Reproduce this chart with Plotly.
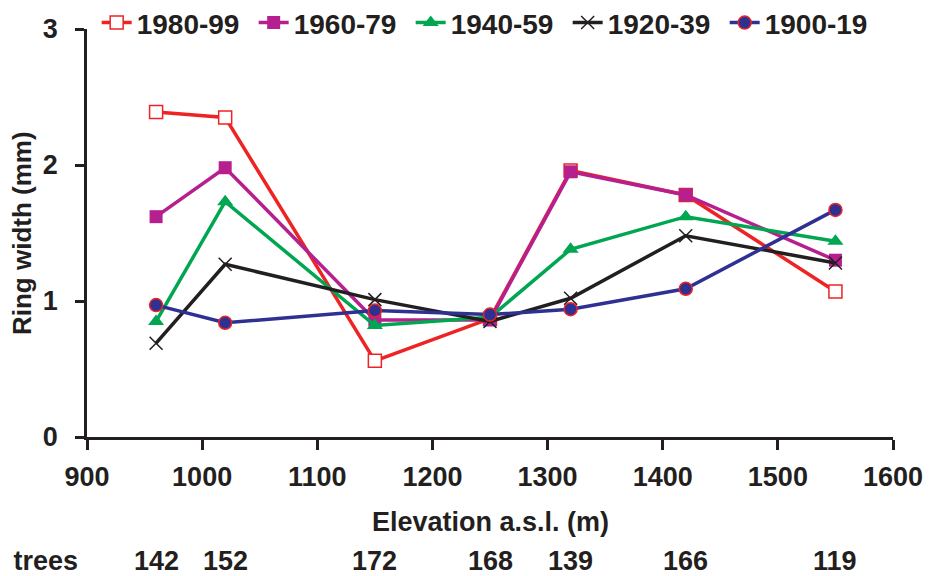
import plotly.graph_objects as go

elevation = [960, 1020, 1150, 1250, 1320, 1420, 1550]
series_names = ["1980-99", "1960-79", "1940-59", "1920-39", "1900-19"]
w1980 = [2.39, 2.35, 0.56, 0.87, 1.96, 1.78, 1.07]
w1960 = [1.62, 1.98, 0.86, 0.86, 1.95, 1.78, 1.30]
w1940 = [0.85, 1.73, 0.82, 0.88, 1.38, 1.62, 1.44]
w1920 = [0.69, 1.27, 1.01, 0.85, 1.02, 1.48, 1.28]
w1900 = [0.97, 0.84, 0.93, 0.90, 0.94, 1.09, 1.67]
n_trees = [142, 152, 172, 168, 139, 166, 119]
x_ticks = [900, 1000, 1100, 1200, 1300, 1400, 1500, 1600]
y_ticks = [0, 1, 2, 3]

FONT = "Liberation Sans, Arial, Helvetica, sans-serif"
TXT = "#231F20"

styles = [
    dict(color="#EE2324", symbol="square", fill="white", lc="#EE2324", lw=1.5, size=13),
    dict(color="#B5208E", symbol="square", fill="#B5208E", lc="#B5208E", lw=0, size=13),
    dict(color="#00A651", symbol="triangle-up", fill="#00A651", lc="#00A651", lw=0, size=14),
    dict(color="#231F20", symbol="x-thin", fill="#231F20", lc="#231F20", lw=1.5, size=13),
    dict(color="#2E3192", symbol="circle", fill="#2E3192", lc="#EE2324", lw=1.5, size=13),
]
data = [w1980, w1960, w1940, w1920, w1900]

fig = go.Figure()
for name, vals, s in zip(series_names, data, styles):
    fig.add_trace(go.Scatter(
        x=elevation, y=vals, name=name, mode="lines+markers",
        line=dict(color=s["color"], width=3.5),
        marker=dict(symbol=s["symbol"], size=s["size"], color=s["fill"],
                    line=dict(color=s["lc"], width=s["lw"])),
        cliponaxis=False,
    ))

def f(size):
    return dict(family=FONT, size=size, color=TXT, weight="bold")

annotations = []
for x, n in zip(elevation, n_trees):
    annotations.append(dict(x=x, y=-0.303, xref="x", yref="paper", text=str(n),
                            showarrow=False, font=f(27),
                            xanchor="center", yanchor="middle"))
annotations.append(dict(x=-0.0085, y=-0.303, xref="paper", yref="paper", text="Number of trees",
                        showarrow=False, font=f(27),
                        xanchor="right", yanchor="middle"))
annotations.append(dict(x=0.5, y=-0.208, xref="paper", yref="paper", text="Elevation a.s.l. (m)",
                        showarrow=False, font=f(27), xanchor="center", yanchor="middle"))
annotations.append(dict(x=-0.0806, y=0.5, xref="paper", yref="paper", text="Ring width (mm)",
                        showarrow=False, font=f(26), textangle=-90,
                        xanchor="center", yanchor="middle"))

fig.update_layout(
    width=928, height=568,
    margin=dict(l=79, r=43, t=21, b=139, autoexpand=False),
    paper_bgcolor="white", plot_bgcolor="rgba(0,0,0,0)",
    font=f(27),
    showlegend=True,
    legend=dict(orientation="h", x=0.012, y=1.015, xanchor="left", yanchor="middle",
                font=f(28), bgcolor="rgba(0,0,0,0)", itemwidth=30, tracegroupgap=0,
                entrywidth=112, entrywidthmode="pixels"),
    xaxis=dict(range=[900, 1600], tickvals=x_ticks, ticks="outside", ticklen=10, tickwidth=2.5,
               tickcolor=TXT, showline=True, linecolor=TXT, linewidth=2.5,
               showgrid=False, zeroline=False, ticklabelstandoff=4, automargin=False,
               tickfont=f(27)),
    yaxis=dict(range=[0, 3], tickvals=y_ticks, ticks="outside", ticklen=9, tickwidth=2.5,
               tickcolor=TXT, showline=True, linecolor=TXT, linewidth=2.5,
               showgrid=False, zeroline=False, ticklabelstandoff=12, automargin=False,
               tickfont=f(27)),
    annotations=annotations,
)

fig.write_html("out.html")
